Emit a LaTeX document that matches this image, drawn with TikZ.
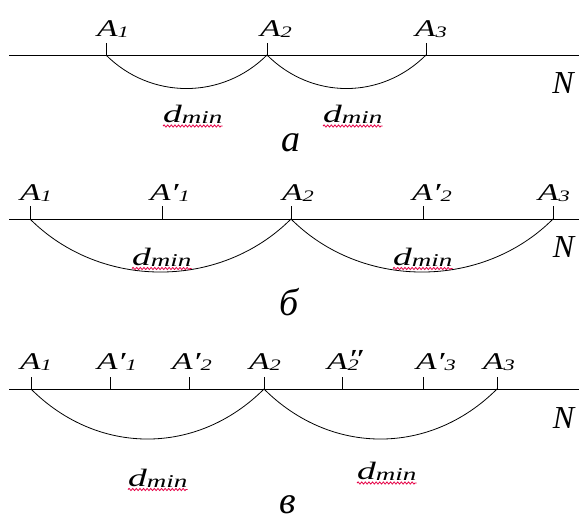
\documentclass[tikz,border=0pt]{standalone}
\usepackage{fontspec}
\setmainfont{Liberation Serif}
\usetikzlibrary{decorations.pathmorphing}
% A label: #1 subscript, #2 prime mark (may be empty)
\newcommand\Alab[2]{\scalebox{1.4}[1]{\fontsize{24}{24}\selectfont\itshape A\raisebox{-1pt}{\fontsize{26}{26}\selectfont #2}\raisebox{-1pt}{\fontsize{16}{16}\selectfont #1}}}
\newcommand\Alabpp[1]{\scalebox{1.4}[1]{\fontsize{24}{24}\selectfont\itshape A\makebox[0pt][l]{\raisebox{2pt}{\fontsize{26}{26}\selectfont ″}}\raisebox{-1pt}{\fontsize{16}{16}\selectfont #1}}}
\newcommand\dmin{\scalebox{1.5}[1]{\fontsize{25}{25}\selectfont\itshape d\raisebox{-1.5pt}{\fontsize{18}{18}\selectfont min}}}
\tikzset{
  axisline/.style={line width=1pt},
  tickline/.style={line width=1pt},
  arcline/.style={line width=0.8pt},
  lab/.style={anchor=base west, inner sep=0pt},
  nlab/.style={anchor=center, inner sep=0pt, font=\fontsize{32}{32}\selectfont\itshape},
  plab/.style={anchor=base, inner sep=0pt, font=\fontsize{38}{38}\selectfont\itshape},
  squig/.style={draw={rgb,255:red,230;green,0;blue,70}, line width=0.8pt, decorate, decoration={snake, amplitude=1.1pt, segment length=3.6pt}}
}
\begin{document}
\begin{tikzpicture}[x=1pt,y=-1pt]
\useasboundingbox (0,0) rectangle (579,517);
\fill[white] (0,0) rectangle (579,517);
% ---------- panel a ----------
\coordinate (aL) at (9,55); \coordinate (aR) at (579,55);
\draw[axisline] (aL) -- (aR);
\foreach \n/\x in {1/106,2/267,3/426}{
  \coordinate (a\n) at (\x,55);
  \draw[tickline] (a\n) -- ++(0,-12);
}
\draw[arcline] (a1) .. controls +(44.7,44.7) and +(-44.7,44.7) .. (a2);
\draw[arcline] (a2) .. controls +(44.7,44.7) and +(-44.7,44.7) .. (a3);
\node[lab] (la1) at (97,36) {\Alab{1}{}};
\node[lab] (la2) at (260,36) {\Alab{2}{}};
\node[lab] (la3) at (415,36) {\Alab{3}{}};
\node[nlab] (na) at (563,83) {N};
\node[lab] (da1) at (163,122) {\dmin};
\node[lab] (da2) at (323,122) {\dmin};
\draw[squig] ([yshift=-4pt]da1.base west) -- ([yshift=-4pt]da1.base east);
\draw[squig] ([yshift=-4pt]da2.base west) -- ([yshift=-4pt]da2.base east);
\node[plab] (pa) at (291,151) {а};
% ---------- panel b ----------
\coordinate (bL) at (9,219); \coordinate (bR) at (579,219);
\draw[axisline] (bL) -- (bR);
\foreach \n/\x in {1/30,1p/162,2/291,2p/423,3/553}{
  \coordinate (b\n) at (\x,219);
  \draw[tickline] (b\n) -- ++(0,-13);
}
\draw[arcline] (b1) .. controls +(70.7,70.7) and +(-70.7,70.7) .. (b2);
\draw[arcline] (b2) .. controls +(70.7,70.7) and +(-70.7,70.7) .. (b3);
\node[lab] (lb1) at (20,200) {\Alab{1}{}};
\node[lab] (lb1p) at (150,200) {\Alab{1}{′}};
\node[lab] (lb2) at (282,200) {\Alab{2}{}};
\node[lab] (lb2p) at (412,200) {\Alab{2}{′}};
\node[lab] (lb3) at (538,200) {\Alab{3}{}};
\node[nlab] (nb) at (563.5,247.5) {N};
\node[lab] (db1) at (132,265) {\dmin};
\node[lab] (db2) at (393,265) {\dmin};
\draw[squig] ([yshift=-3.5pt]db1.base west) -- ([yshift=-3.5pt]db1.base east);
\draw[squig] ([yshift=-3.5pt]db2.base west) -- ([yshift=-3.5pt]db2.base east);
\node[plab] (pb) at (289,315) {б};
% ---------- panel c ----------
\coordinate (cL) at (9,389); \coordinate (cR) at (579,389);
\draw[axisline] (cL) -- (cR);
\foreach \n/\x in {1/31,1p/110,2p/189,2/264,2pp/342,3p/423,3/497}{
  \coordinate (c\n) at (\x,389);
  \draw[tickline] (c\n) -- ++(0,-12);
}
\draw[arcline] (c1) .. controls +(66.7,66.7) and +(-66.7,66.7) .. (c2);
\draw[arcline] (c2) .. controls +(66.7,66.7) and +(-66.7,66.7) .. (c3);
\node[lab] (lc1) at (20,369) {\Alab{1}{}};
\node[lab] (lc1p) at (97,369) {\Alab{1}{′}};
\node[lab] (lc2p) at (172,369) {\Alab{2}{′}};
\node[lab] (lc2) at (249,369) {\Alab{2}{}};
\node[lab] (lc2pp) at (327,369) {\Alabpp{2}};
\node[lab] (lc3p) at (416,369) {\Alab{3}{′}};
\node[lab] (lc3) at (483,369) {\Alab{3}{}};
\node[nlab] (nc) at (563.5,418) {N};
\node[lab] (dc1) at (128,486) {\dmin};
\node[lab] (dc2) at (357,479) {\dmin};
\draw[squig] ([yshift=-3.5pt]dc1.base west) -- ([yshift=-3.5pt]dc1.base east);
\draw[squig] ([yshift=-4pt]dc2.base west) -- ([yshift=-4pt]dc2.base east);
\node[plab] (pc) at (288,513) {в};
\end{tikzpicture}
\end{document}
